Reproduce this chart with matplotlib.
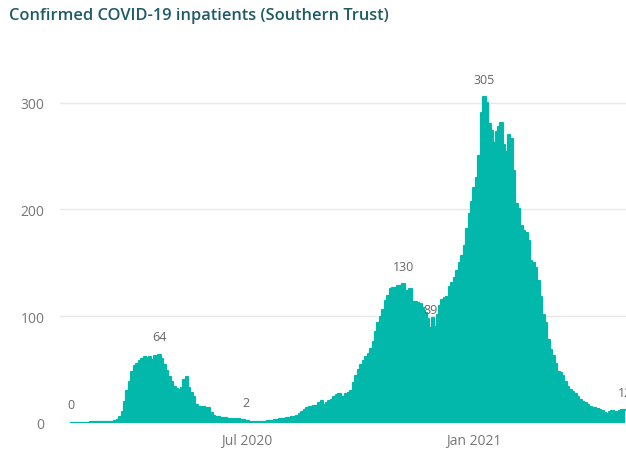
import numpy as np
import matplotlib.pyplot as plt

plt.rcParams['font.family'] = ['Open Sans', 'DejaVu Sans']

# inpatient counts, one reading every second day from 9 Feb 2020
start = np.datetime64('2020-02-09')
step_days = 2
values = [
    0, 0, 0, 0, 0, 0, 0, 0, 1, 1,
    1, 1, 1, 1, 1, 1, 1, 1, 2, 3,
    6, 10, 20, 30, 38, 48, 53, 55, 58, 60,
    62, 61, 62, 59, 63, 62, 64, 60, 54, 49,
    43, 38, 34, 32, 31, 33, 40, 43, 33, 28,
    24, 17, 15, 15, 15, 14, 14, 9, 7, 6,
    6, 5, 5, 5, 4, 4, 4, 3, 4, 3,
    3, 2, 2, 1, 1, 1, 1, 1, 1, 1,
    2, 2, 2, 3, 3, 4, 4, 4, 5, 5,
    6, 6, 7, 8, 10, 12, 14, 15, 15, 16,
    16, 19, 21, 17, 19, 21, 22, 24, 26, 27,
    24, 24, 27, 28, 30, 37, 44, 50, 54, 58,
    62, 65, 69, 76, 85, 94, 99, 106, 114, 119,
    125, 126, 124, 128, 127, 130, 120, 124, 125, 113,
    113, 112, 111, 108, 103, 97, 89, 98, 90, 101,
    110, 115, 117, 118, 127, 131, 136, 142, 150, 156,
    166, 182, 196, 207, 220, 229, 250, 290, 305, 300,
    280, 273, 262, 272, 277, 281, 260, 254, 270, 266,
    236, 205, 200, 184, 180, 178, 170, 152, 150, 145,
    133, 118, 101, 94, 78, 68, 63, 55, 48, 47,
    44, 38, 34, 31, 29, 27, 24, 22, 20, 19,
    17, 15, 14, 14, 13, 12, 11, 9, 8, 10,
    11, 10, 10, 11, 12, 12,
]
dates = start + np.arange(len(values)) * np.timedelta64(step_days, 'D')

# points that carry a value label
label_idx = [0, 36, 71, 135, 146, 168, len(values) - 1]

yticks = [0, 100, 200, 300]
xticks = [np.datetime64('2020-07-01'), np.datetime64('2021-01-01')]
xticklabels = ['Jul 2020', 'Jan 2021']

teal = '#01B8AA'

fig = plt.figure(figsize=(6.26, 4.52), dpi=100)
ax = fig.add_axes([60 / 626, 28 / 452, 566 / 626, 0.8034])

ax.fill_between(dates, values, step='mid', color=teal, lw=0, zorder=2)
ax.step(dates, values, where='mid', color=teal, lw=1.6, zorder=3)

ax.set_ylim(0, 340)
ax.set_xlim(np.datetime64('2020-01-31'), np.datetime64('2021-05-05'))
ax.set_yticks(yticks)
ax.set_xticks(xticks)
ax.set_xticklabels(xticklabels)
ax.yaxis.grid(True, color='#e8e8e8', lw=1, zorder=0)
ax.set_axisbelow(True)
for s in ax.spines.values():
    s.set_visible(False)
ax.tick_params(axis='both', length=0, labelcolor='#777777', labelsize=10)
ax.tick_params(axis='y', pad=11)
ax.tick_params(axis='x', pad=7)

for i in label_idx:
    ax.annotate(str(values[i]), (dates[i], values[i]), xytext=(0, 13),
                textcoords='offset points', ha='center', va='center',
                fontsize=9, color='#666666', annotation_clip=False)

fig.text(9 / 626, 1 - 16 / 452, 'Confirmed COVID-19 inpatients (Southern Trust)',
         fontsize=11.8, fontweight='semibold', color='#1E5B66', va='center')

fig.savefig('out.png', dpi=100)
